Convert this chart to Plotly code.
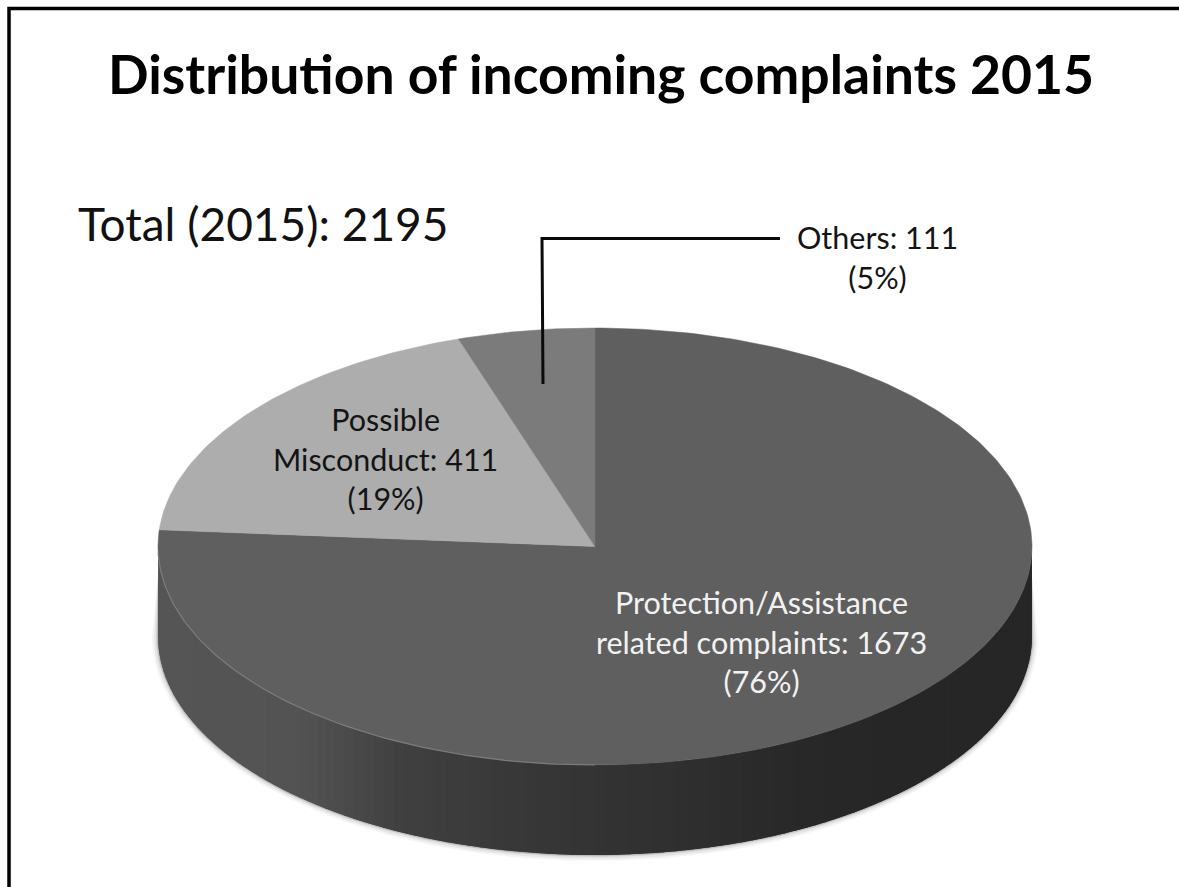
import numpy as np
import plotly.graph_objects as go

# data
categories = ["Protection/Assistance<br>related complaints: 1673<br>(76%)",
              "Possible<br>Misconduct: 411<br>(19%)",
              "Others: 111<br>(5%)"]
values = [1673, 411, 111]
slice_colors = ["#5f5f5f", "#adadad", "#7b7b7b"]
title_text = "Distribution of incoming complaints 2015"
total_text = "Total (2015): 2195"

# pie geometry in the pixel-based axes
CX, CY, A, B, DEPTH = 595.0, 546.5, 437.0, 218.5, 90.0
W, H = 1179, 887

# side shading: (x position on the rim, grey level)
shade_x = [158, 300, 350, 400, 500, 600, 700, 800, 900, 1032]
shade_g = [0x55, 0x53, 0x4a, 0x40, 0x39, 0x33, 0x2e, 0x28, 0x26, 0x26]


def px(t, a=A):
    return CX + a * np.sin(t)


def py(t, b=B, dy=0.0):
    return CY + dy - b * np.cos(t)


fig = go.Figure()

# soft drop shadow beneath the rim, tapering out towards the top of the rim
for grow, alpha in [(6, 0.05), (4, 0.08), (2, 0.12), (1, 0.18)]:
    t = np.linspace(np.pi / 2, 3 * np.pi / 2, 181)
    xs = np.concatenate([[CX + A], px(t, A + grow), [CX - A]])
    ys = np.concatenate([[CY + 30], py(t, B + grow, DEPTH), [CY + 30]])
    fig.add_trace(go.Scatter(x=xs, y=ys, mode="lines", fill="toself",
                             fillcolor=f"rgba(60,60,60,{alpha})", line=dict(width=0),
                             hoverinfo="skip", showlegend=False))

# rim as shaded strips, painted right to left and overlapping
edges = np.linspace(np.pi / 2 - 0.02, 3 * np.pi / 2 + 0.02, 121)
for t0, t1 in zip(edges[:-1], edges[1:]):
    seg = np.linspace(t0, min(t1 + 0.03, edges[-1]), 7)
    xs = np.concatenate([px(seg), px(seg[::-1])])
    ys = np.concatenate([py(seg), py(seg[::-1], dy=DEPTH)])
    g = int(round(np.interp(px((t0 + t1) / 2), shade_x, shade_g)))
    col = f"rgb({g},{g},{g})"
    fig.add_trace(go.Scatter(x=xs, y=ys, mode="lines", fill="toself", fillcolor=col,
                             line=dict(width=0),
                             hoverinfo="skip", showlegend=False))

# top face slices, from the data
total = sum(values)
start = 0.0
for val, col in zip(values, slice_colors):
    end = start + val / total * 2 * np.pi
    t = np.linspace(start, end, max(int(val / total * 360), 8) + 1)
    xs = np.concatenate([[CX], px(t), [CX]])
    ys = np.concatenate([[CY], py(t), [CY]])
    fig.add_trace(go.Scatter(x=xs, y=ys, mode="lines", fill="toself", fillcolor=col,
                             line=dict(width=0.5, color=col),
                             hoverinfo="skip", showlegend=False))
    start = end

# light highlight along the front edge
t = np.linspace(np.pi * 1.0, np.pi * 1.49, 90)
fig.add_trace(go.Scatter(x=px(t), y=py(t), mode="lines",
                         line=dict(width=1.2, color="#7c7c7c"),
                         hoverinfo="skip", showlegend=False))

# leader line for Others
fig.add_trace(go.Scatter(x=[780, 542, 543], y=[238.5, 238.5, 384], mode="lines",
                         line=dict(width=3, color="#0a0a0a"),
                         hoverinfo="skip", showlegend=False))

# frame: top and left edges only
fig.add_trace(go.Scatter(x=[9, 9, W], y=[H, 8.5, 8.5], mode="lines",
                         line=dict(width=3.5, color="#000000"),
                         hoverinfo="skip", showlegend=False))

FONT = "Lato"
def note(x, y, text, size, color="#141414", bold=False):
    fig.add_annotation(x=x, y=y, xref="x", yref="y", text=f"<b>{text}</b>" if bold else text,
                       showarrow=False, align="center", xanchor="center", yanchor="middle",
                       font=dict(family=FONT, size=size, color=color))

note(601, 73, title_text, 53.5, "#000000", True)
note(263, 223, total_text, 46, "#111111")
note(761, 641, categories[0], 30.5, "#f2f2f2")
note(385, 458, categories[1], 30.5, "#141414")
note(877, 257, categories[2], 30.5, "#141414")

fig.update_layout(
    width=W, height=H, margin=dict(l=0, r=0, t=0, b=0),
    paper_bgcolor="#ffffff", plot_bgcolor="#ffffff", showlegend=False,
    xaxis=dict(range=[0, W], visible=False, fixedrange=True),
    yaxis=dict(range=[H, 0], visible=False, fixedrange=True),
)
fig.write_html("out.html", config={"displayModeBar": False, "responsive": False},
               post_script="document.body.style.margin='0';document.body.style.overflow='hidden';")
